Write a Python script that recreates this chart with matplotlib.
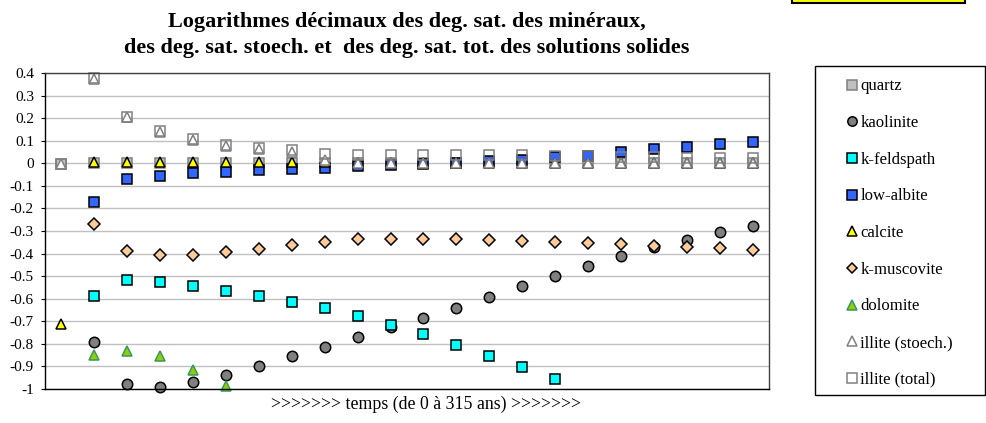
import numpy as np
import matplotlib.pyplot as plt
from matplotlib.patches import Rectangle

plt.rcParams['font.family'] = ['Liberation Serif', 'DejaVu Serif']

nan = np.nan
# 22 pas de temps (0 a 315 ans)
temps = np.arange(22)

quartz = [-0.005, 0, 0, 0, 0, 0, 0, 0, 0, 0, 0, 0, 0, 0, 0, 0, 0, 0, 0, 0, 0, 0]
kaolinite = [nan, -0.79, -0.98, -0.99, -0.97, -0.937, -0.897, -0.855, -0.813, -0.768, -0.725,
             -0.686, -0.641, -0.594, -0.545, -0.498, -0.454, -0.411, -0.372, -0.339, -0.306, -0.277]
k_feldspath = [nan, -0.587, -0.517, -0.526, -0.545, -0.566, -0.59, -0.615, -0.643, -0.675, -0.715,
               -0.758, -0.804, -0.852, -0.904, -0.956, nan, nan, nan, nan, nan, nan]
low_albite = [nan, -0.173, -0.07, -0.055, -0.045, -0.037, -0.03, -0.027, -0.02, -0.012, -0.008,
              -0.004, 0.0, 0.008, 0.016, 0.027, 0.034, 0.049, 0.062, 0.074, 0.086, 0.095]
calcite = [-0.71, 0.005, 0.005, 0.005, 0.005, 0.005, 0.005, 0.005, 0.005, 0, 0,
           0, 0, 0, 0, 0, 0, 0, 0, 0, 0, 0]
k_muscovite = [nan, -0.268, -0.39, -0.408, -0.406, -0.395, -0.378, -0.362, -0.347, -0.336, -0.336,
               -0.336, -0.336, -0.341, -0.344, -0.349, -0.353, -0.359, -0.365, -0.37, -0.377, -0.383]
dolomite = [nan, -0.851, -0.833, -0.855, -0.914, -0.988, nan, nan, nan, nan, nan,
            nan, nan, nan, nan, nan, nan, nan, nan, nan, nan, nan]
illite_stoech = [-0.005, 0.374, 0.204, 0.14, 0.104, 0.078, 0.064, 0.048, 0.016, 0, 0,
                 0, 0, 0, 0, 0, 0, 0, 0, 0, 0, 0]
illite_total = [-0.005, 0.376, 0.206, 0.142, 0.106, 0.08, 0.069, 0.059, 0.043, 0.036, 0.035,
                0.037, 0.037, 0.036, 0.035, 0.033, 0.032, 0.03, 0.026, 0.025, 0.024, 0.023]

fig = plt.figure(figsize=(9.87, 4.23), dpi=100)
ax = fig.add_axes([45 / 987, 1 - 389 / 423, 724 / 987, 316 / 423])

# (donnees, label, marker, taille, fond, bord)
series = [
    (quartz, 'quartz', 's', 7.5, '#C0C0C0', '#808080'),
    (kaolinite, 'kaolinite', 'o', 7.5, '#808080', 'black'),
    (k_feldspath, 'k-feldspath', 's', 7.5, '#00FFFF', 'black'),
    (low_albite, 'low-albite', 's', 7.5, '#3366FF', 'black'),
    (calcite, 'calcite', '^', 7.5, '#FFFF00', 'black'),
    (k_muscovite, 'k-muscovite', 'D', 6, '#FFCC99', 'black'),
    (dolomite, 'dolomite', '^', 7.5, '#99CC00', '#339966'),
    (illite_stoech, 'illite (stoech.)', '^', 7.5, 'white', '#808080'),
    (illite_total, 'illite (total)', 's', 7.5, 'none', '#808080'),
]
for vals, lab, mk, ms, fc, ec in series:
    ax.plot(temps, vals, linestyle='none', marker=mk, markersize=ms,
            markerfacecolor=fc, markeredgecolor=ec, markeredgewidth=1.1,
            label=lab, clip_on=False)

ax.set_xlim(-0.5, 21.5)
ax.set_ylim(-1, 0.4)
yt = np.round(np.arange(-1, 0.41, 0.1), 1) + 0.0
ax.set_yticks(yt)
ax.set_yticklabels(['{:g}'.format(v) if abs(v) > 1e-9 else '0' for v in yt], fontsize=11)
ax.set_xticks([])
ax.tick_params(axis='y', direction='out', length=3, width=0.8, pad=5)
ax.grid(axis='y', color='#C0C0C0', linewidth=1)
ax.set_axisbelow(True)
for s in ax.spines.values():
    s.set_color('#404040')
    s.set_linewidth(1)
ax.spines['left'].set_color('black')
ax.spines['bottom'].set_color('black')

ax.set_xlabel('>>>>>>> temps (de 0 à 315 ans) >>>>>>>', fontsize=12.8)
ax.xaxis.set_label_coords((426 - 45) / 724, -15 / 316)
ax.xaxis.label.set_va('center')

fig.text(407 / 987, 1 - 35 / 423,
         'Logarithmes décimaux des deg. sat. des minéraux,\n'
         'des deg. sat. stoech. et  des deg. sat. tot. des solutions solides',
         ha='center', va='center', fontsize=16, fontweight='bold', linespacing=1.42)

# cadre de la legende
fig.patches.append(Rectangle((815 / 987, 1 - 395 / 423), 170 / 987, 329 / 423,
                             transform=fig.transFigure, facecolor='white',
                             edgecolor='black', linewidth=1, zorder=0))
# petit cadre jaune en haut
fig.patches.append(Rectangle((792 / 987, 1 - 3 / 423), 173 / 987, 20 / 423,
                             transform=fig.transFigure, facecolor='#FFFF00',
                             edgecolor='black', linewidth=1.5))

fig.legend(loc='upper left', bbox_to_anchor=(847 / 987, 1 - 78.5 / 423),
           frameon=False, fontsize=12, markerscale=0.9, handlelength=0.6,
           handletextpad=0.2, labelspacing=1.24, borderpad=0, borderaxespad=0)

plt.savefig('out.png', dpi=100)
